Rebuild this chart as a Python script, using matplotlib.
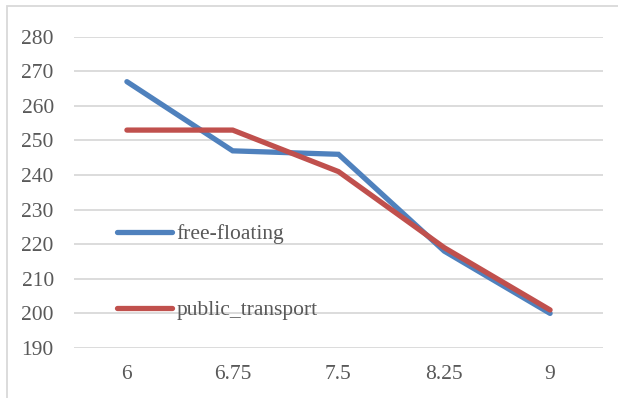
import matplotlib.pyplot as plt
from matplotlib.patches import Rectangle

# Data
categories = ["6", "6.75", "7.5", "8.25", "9"]
free_floating = [267, 247, 246, 218, 200]
public_transport = [253, 253, 241, 219, 201]

plt.rcParams["font.family"] = ["Liberation Serif", "DejaVu Serif"]

fig = plt.figure(figsize=(6.18, 3.98), dpi=100)
ax = fig.add_axes([74 / 618, 1 - 348 / 398, 529 / 618, (348 - 36.7) / 398])

x = list(range(len(categories)))
ax.plot(x, free_floating, color="#4F81BD", lw=3.8, solid_capstyle="round",
        solid_joinstyle="miter", label="free-floating", zorder=3)
ax.plot(x, public_transport, color="#C0504D", lw=3.8, solid_capstyle="round",
        solid_joinstyle="miter", label="public_transport", zorder=3)

ax.set_xlim(-0.5, len(categories) - 0.5)
ax.set_ylim(190, 280)
ax.set_yticks(range(190, 281, 10))
ax.set_xticks(x)
ax.set_xticklabels(categories)

ax.grid(axis="y", color="#D9D9D9", lw=1.3)
ax.set_axisbelow(True)
for s in ax.spines.values():
    s.set_visible(False)
ax.tick_params(length=0, labelsize=15.5, labelcolor="#595959")
ax.tick_params(axis="y", pad=14.5)
ax.tick_params(axis="x", pad=12)

leg = ax.legend(loc="upper left", bbox_to_anchor=(117 / 618, 1 - 224 / 398),
                bbox_transform=fig.transFigure, frameon=False, fontsize=15.5,
                handlelength=2.55, handletextpad=0.2, labelspacing=2.6,
                borderpad=0, borderaxespad=0)
for t in leg.get_texts():
    t.set_color("#595959")

# outer chart frame
fig.patches.append(Rectangle((7 / 618, -0.01), 1.0, 1 - 6 / 398 + 0.01,
                             transform=fig.transFigure, fill=False,
                             edgecolor="#D9D9D9", lw=1.3))

fig.savefig("out.png", dpi=100)
